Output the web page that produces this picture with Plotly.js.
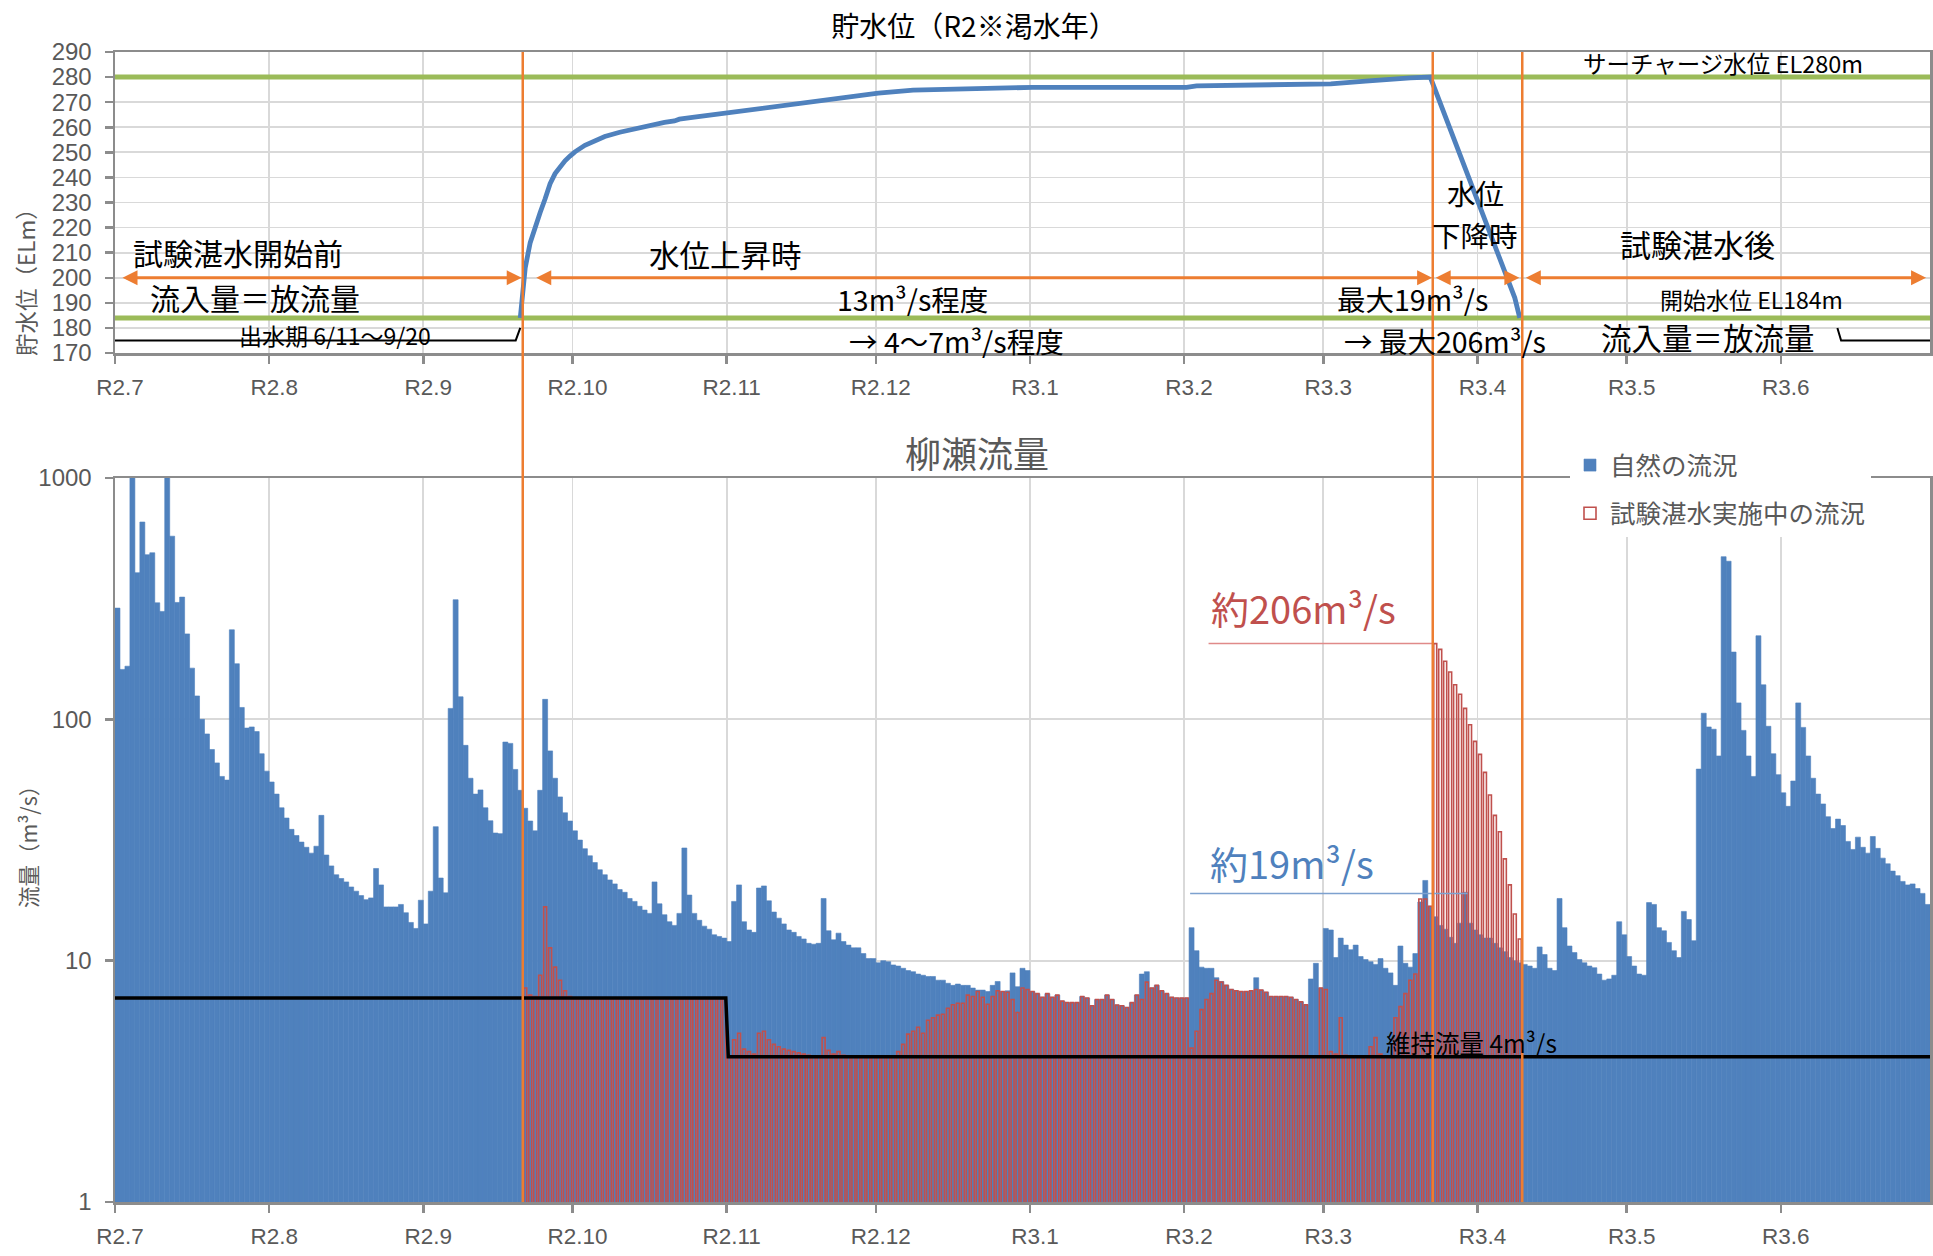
<!DOCTYPE html>
<html>
<head>
<meta charset="utf-8">
<script src="https://cdn.plot.ly/plotly-3.0.1.min.js"></script>
<style>
html,body{margin:0;padding:0;background:#fff;}
#chart{width:1933px;height:1256px;}
</style>
</head>
<body>
<div id="chart"></div>
<script>
// ---------- tick labels ----------
const monthStarts = ['2020-07-01','2020-08-01','2020-09-01','2020-10-01','2020-11-01','2020-12-01',
                     '2021-01-01','2021-02-01','2021-03-01','2021-04-01','2021-05-01','2021-06-01'];
const monthLabels = ['R2.7','R2.8','R2.9','R2.10','R2.11','R2.12','R3.1','R3.2','R3.3','R3.4','R3.5','R3.6'];

// ---------- natural flow (自然の流況) m3/s, daily from 2020-07-01 ----------
const julFlow = [289,161,166,1100,405,657,481,490,304,280,1100,574,305,321,226,163,125,100,87,75,66,58,56,235,170,112,92,93,89,72,61];
const augFlow = [55,49,43,39,35,33,31,29.5,27.9,29.8,40,27.4,24.7,22.7,21.9,21.2,20.2,19.4,18.6,17.9,18.2,24.1,20.6,16.7,16.7,16.7,17.1,15.8,14.4,13.6,17.8];
const sepFlow = [14.2,19.4,35.9,22,19.1,111,313,124,78,57,49,51,43,38,33.8,33.6,80.5,79.5,62,50.8,42.8,37.9,34.5,50.8,121,74,57,47.7,41,37.9];
const octFlow = [34.5,31.6,29.1,27.2,25.5,23.8,22.7,21.6,20.8,19.7,19.2,18.1,17.6,16.8,16.2,15.7,21.2,17.2,15.5,14.5,14.0,15.7,29.3,18.7,15.7,14.7,13.9,13.5,12.8,12.6,12.4];
const novFlow = [12.0,17.6,20.6,14.5,13.4,13.1,20.0,20.4,17.7,15.9,15.0,14.2,13.4,13.1,12.6,12.3,11.8,11.7,11.8,18.1,13.3,12.2,13.0,12.0,11.6,11.3,11.3,10.7,10.2,10.2];
const decFlow = [9.8,10.0,9.9,9.6,9.5,9.3,9.1,9.0,8.8,8.7,8.6,8.6,8.3,8.3,8.06,7.9,8.0,7.9,7.9,7.7,7.55,7.55,7.45,7.9,8.2,7.45,7.5,8.9,7.8,9.3,9.1];
const janFlow = [7.45,7.3,7.05,7.3,7.05,7.2,6.8,6.7,6.7,6.7,7.1,7.0,6.5,6.9,6.9,7.2,6.9,6.55,6.5,6.4,6.7,7.2,8.8,9.0,7.7,7.9,7.5,7.3,7.05,7.0,7.0];
const febFlow = [7.0,13.7,11.0,9.4,9.3,9.3,8.5,8.2,7.9,7.6,7.5,7.45,7.45,7.5,8.5,7.55,7.4,7.1,7.1,7.1,7.1,7.05,6.9,6.75,6.56,8.4,9.75,7.7];
const marFlow = [13.6,13.4,10.3,12.4,11.6,11.1,11.6,10.4,10.1,9.9,9.65,10.2,9.3,8.9,7.9,11.5,9.75,9.4,10.7,17.5,21.5,16.8,15.2,14.0,13.5,12.5,11.8,14.3,19.2,14.3,13.4];
const aprFlow = [12.8,12.4,12.4,11.8,11.3,10.9,10.3,10.0,9.8,9.65,9.5,9.3,11.4,10.6,9.3,9.1,18.1,13.7,11.5,10.8,10.1,9.8,9.5,9.35,8.8,8.3,8.4,8.7,14.5,12.8];
const mayFlow = [10.4,9.5,8.8,8.7,17.4,17.1,13.7,13.3,11.9,11.0,10.3,16.0,14.8,12.1,62.2,106,93,91,70.5,472,452,190,117,90,70.5,58,222,139,93.6,72,59];
const junFlow = [49.6,43.6,55.5,117,92.6,70.5,57,49,44.6,39.5,35.3,38.6,36.3,31.2,28.9,32.5,29.5,27.9,32.7,29.2,26.6,25.2,23.5,22.5,21.3,20.6,20.8,19.9,19.0,17.1];

// ---------- flow during test impoundment (試験湛水実施中の流況), daily from 2020-09-21 ----------
const sepTest = [7.7,7.2,7.1,8.7,16.7,11.3,9.4,8.3,7.5,7.1];
const octTest = [7.0,7.0,7.0,7.0,7.0,7.0,7.0,7.0,7.0,7.0,7.0,7.0,7.0,7.0,7.0,7.0,7.0,7.0,7.0,7.0,7.0,7.0,7.0,7.0,7.0,7.0,7.0,7.0,7.0,7.0,7.0];
const novTest = [4.0,4.7,5.0,4.3,4.2,4.1,5.0,5.1,4.7,4.5,4.4,4.3,4.25,4.2,4.15,4.1,4.05,4.0,4.0,4.8,4.25,4.1,4.2,4.05,4.0,4.0,4.0,4.0,4.0,4.0];
const decTest = [4.0,4.0,4.0,4.0,4.2,4.5,4.96,5.1,5.3,5.0,5.66,5.8,5.95,6.0,6.35,6.57,6.66,6.66,7.2,7.1,7.45,7.05,6.6,7.1,7.5,7.45,7.4,6.9,6.1,7.7,7.6];
const janTest = [7.45,7.3,7.05,7.3,7.05,7.2,6.8,6.7,6.7,6.7,7.1,7.0,6.5,6.9,6.9,7.2,6.9,6.55,6.5,6.4,6.7,7.2,6.9,8.15,7.7,7.9,7.5,7.3,7.05,7.0,7.0];
const febTest = [7.0,4.34,5.1,6.27,6.9,7.3,8.3,8.15,7.9,7.6,7.5,7.45,7.45,7.5,7.6,7.55,7.4,7.1,7.1,7.1,7.1,7.05,6.9,6.75,6.56,4.0,4.0,7.7];
const marTest = [7.6,4.2,4.1,5.8,4.05,4.0,4.0,4.0,4.0,4.4,4.8,4.1,4.0,4.0,5.8,6.45,7.3,8.3,8.8,18,18,16.8,206,195,174,157,139,127,111,95,81];
const aprTest = [71.6,60.3,48.6,40,34.2,26.4,20.6,15.6,12.3];

// ---------- reservoir level (貯水位) EL m ----------
const levelDates = ['2020-09-20 12:00','2020-09-21 12:00','2020-09-22 12:00','2020-09-23 12:00','2020-09-24 12:00',
  '2020-09-25 12:00','2020-09-26 12:00','2020-09-27 12:00','2020-09-28 12:00','2020-09-29 12:00','2020-09-30 12:00',
  '2020-10-01 12:00','2020-10-03 12:00','2020-10-05 12:00','2020-10-07 12:00','2020-10-10 12:00','2020-10-13 12:00',
  '2020-10-16 12:00','2020-10-19 12:00','2020-10-21 12:00','2020-10-22 12:00','2020-10-25 12:00','2020-10-28 12:00',
  '2020-11-01 12:00','2020-11-05 12:00','2020-11-10 12:00','2020-11-15 12:00','2020-11-20 12:00','2020-11-25 12:00',
  '2020-12-01 12:00','2020-12-08 12:00','2020-12-16 12:00','2020-12-25 12:00','2021-01-01 12:00','2021-01-15 12:00',
  '2021-02-01 12:00','2021-02-03 12:00','2021-02-10 12:00','2021-02-26 12:00','2021-03-02 12:00','2021-03-09 12:00',
  '2021-03-14 12:00','2021-03-18 12:00','2021-03-22 12:00','2021-03-26 12:00','2021-03-30 12:00','2021-04-03 12:00',
  '2021-04-06 12:00','2021-04-08 12:00','2021-04-09 12:00'];
const levelValues = [184,204,214,220.5,226,231.5,237.5,241.5,244.3,246.6,248.5,
  250.2,252.8,254.8,256.3,258,259.4,260.7,261.9,262.5,263.2,264,264.8,
  265.4,266.8,268.2,269.5,270.8,272,273.6,274.8,275.3,275.7,275.9,275.9,
  275.9,276.5,276.7,277,277.3,278.4,279.2,279.7,280,259.5,238.9,218.4,203,192,184];

// reference levels
const fullRange = ['2020-07-01','2021-07-01'];
const surchargeLevel = [280,280];
const startLevel = [184,184];
// 出水期 bracket
const floodLeftX = ['2020-07-01','2020-09-19 14:00','2020-09-20 12:00'];
const floodLeftY = [175,175,180];
const floodRightX = ['2021-06-12 09:00','2021-06-13 03:00','2021-07-01'];
const floodRightY = [180,175,175];
// 維持流量
const maintX = ['2020-07-01','2020-10-31 20:00','2020-11-01 08:00','2021-07-01'];
const maintY = [7,7,4,4];
// leaders
const peakTestX = ['2021-02-05 22:00','2021-03-23 00:00'];
const peakTestY = [206,206];
const peakNatX = ['2021-02-02 05:00','2021-03-30 00:00'];
const peakNatY = [19,19];
// phase boundaries
const phaseBounds = ['2020-09-21','2021-03-23','2021-04-10'];

const DAY = 86400000;
function makeDates(y, m, d, n){
  const out = [], t0 = Date.UTC(y, m-1, d, 12);
  for (let i = 0; i < n; i++){ out.push(new Date(t0 + i*DAY).toISOString().slice(0,10) + ' 12:00'); }
  return out;
}
const naturalFlow = [].concat(julFlow, augFlow, sepFlow, octFlow, novFlow, decFlow, janFlow, febFlow, marFlow, aprFlow, mayFlow, junFlow);
const flowDates = makeDates(2020, 7, 1, naturalFlow.length);
const testFlow = [].concat(sepTest, octTest, novTest, decTest, janTest, febTest, marTest, aprTest);
const testDates = makeDates(2020, 9, 21, testFlow.length);

const BLUE = '#4F81BD', RED = '#C0504D', GREEN = '#9BBB59', ORANGE = '#ED7D31', GRAY = '#595959';
const CJK = 'Noto Sans CJK JP, sans-serif';
const LAT = 'Liberation Sans, Arial, sans-serif';

const traces = [
  {type:'bar', x:flowDates, y:naturalFlow, xaxis:'x2', yaxis:'y2', width:DAY,
   marker:{color:BLUE, line:{color:BLUE, width:0.6}}, name:'自然の流況', legendgroup:'a'},
  {type:'bar', x:testDates, y:testFlow, xaxis:'x2', yaxis:'y2', width:DAY*0.6,
   marker:{color:'rgba(255,255,255,0)', line:{color:RED, width:1.6}}, name:'試験湛水実施中の流況', legendgroup:'b'},
  {type:'scatter', mode:'lines', x:maintX, y:maintY, xaxis:'x2', yaxis:'y2', line:{color:'#000', width:3.5}, showlegend:false},
  {type:'scatter', mode:'lines', x:peakTestX, y:peakTestY, xaxis:'x2', yaxis:'y2', line:{color:'#E08A89', width:1.5}, showlegend:false},
  {type:'scatter', mode:'lines', x:peakNatX, y:peakNatY, xaxis:'x2', yaxis:'y2', line:{color:'#7DA1CF', width:1.5}, showlegend:false},

  {type:'scatter', mode:'lines', x:fullRange, y:surchargeLevel, xaxis:'x', yaxis:'y', line:{color:GREEN, width:5}, showlegend:false},
  {type:'scatter', mode:'lines', x:fullRange, y:startLevel, xaxis:'x', yaxis:'y', line:{color:GREEN, width:5}, showlegend:false},
  {type:'scatter', mode:'lines', x:levelDates, y:levelValues, xaxis:'x', yaxis:'y', line:{color:BLUE, width:4.8}, showlegend:false},
  {type:'scatter', mode:'lines', x:floodLeftX, y:floodLeftY, xaxis:'x', yaxis:'y', line:{color:'#000', width:2}, showlegend:false},
  {type:'scatter', mode:'lines', x:floodRightX, y:floodRightY, xaxis:'x', yaxis:'y', line:{color:'#000', width:2}, showlegend:false}
];

const axisCommon = {
  showgrid:true, gridcolor:'#D9D9D9', gridwidth:1.8,
  showline:true, mirror:true, linecolor:'#8C8C8C', linewidth:2.5,
  ticks:'outside', ticklen:8, tickwidth:2.5, tickcolor:'#8C8C8C',
  zeroline:false, fixedrange:true
};
const xCommon = Object.assign({}, axisCommon, {
  type:'date', range:fullRange, tickmode:'array', tickvals:monthStarts, ticktext:monthLabels,
  tickfont:{family:LAT, size:22.5, color:GRAY}, ticklabelstandoff:4, ticklabelshift:5
});

function paperX(px){ return (px - 115) / 1815; }
function paperY(py){ return (1256 - py) / 1256; }

function label(text, fx, fy, size, color, extra){
  return Object.assign({text:text, xref:'paper', yref:'paper', x:paperX(fx), y:paperY(fy),
    xanchor:'center', yanchor:'middle', showarrow:false, borderpad:0,
    font:{family:CJK, size:size, color:color || '#000'}}, extra || {});
}
function arrow(x0, x1){
  return {text:'', xref:'x', yref:'y', axref:'x', ayref:'y', x:x1, y:200, ax:x0, ay:200,
    showarrow:true, arrowside:'end+start', arrowhead:2, startarrowhead:2, arrowsize:1, startarrowsize:1,
    arrowwidth:3, arrowcolor:ORANGE, standoff:0, startstandoff:0};
}

const annotations = [
  label('試験湛水開始前', 238, 252, 30),
  label('流入量＝放流量', 255, 297, 30),
  label('出水期 6/11～9/20', 335, 335, 23),
  label('水位上昇時', 725, 254, 30.5),
  label('13m³/s程度', 912, 298, 28.5),
  label('→ 4～7m³/s程度', 956, 341, 28.5),
  label('最大19m³/s', 1412, 298, 28.5),
  label('→ 最大206m³/s', 1445, 341, 28.5),
  label('水位', 1475, 192.5, 28.5),
  label('下降時', 1475, 234.5, 28.5),
  label('試験湛水後', 1697, 244, 31),
  label('サーチャージ水位 EL280m', 1723, 63, 23.5),
  label('開始水位 EL184m', 1751, 299, 23),
  label('流入量＝放流量', 1708, 337, 30.5),
  label('柳瀬流量', 977, 452, 36, GRAY),
  label('約206m³/s', 1303, 607, 38, RED),
  label('約19m³/s', 1292, 863, 38, BLUE),
  label('維持流量 4m³/s', 1471, 1042, 24.5),
  label('貯水位（ELm）', 25, 277, 22.5, GRAY, {textangle:-90}),
  label('流量（m³/s）', 27, 842, 21.5, GRAY, {textangle:-90}),
  arrow('2020-07-02 05:00', '2020-09-20 19:00'),
  arrow('2020-09-23 10:00', '2021-03-22 21:00'),
  arrow('2021-03-23 07:00', '2021-04-09 10:00'),
  arrow('2021-04-10 10:00', '2021-06-30 05:00')
];

const shapes = phaseBounds.map(d => ({type:'line', xref:'x', yref:'paper', x0:d, x1:d,
  y0:paperY(1202), y1:paperY(52), line:{color:ORANGE, width:2.5}, layer:'above'}));

const layout = {
  width:1933, height:1256, margin:{l:115, r:3, t:0, b:0},
  paper_bgcolor:'#fff', plot_bgcolor:'#fff',
  barmode:'overlay', bargap:0,
  title:{text:'貯水位（R2※渇水年）', xref:'container', yref:'container', x:974/1933, y:paperY(27),
         xanchor:'center', yanchor:'middle', font:{family:CJK, size:28, color:'#000'}},
  xaxis:Object.assign({}, xCommon, {anchor:'y', domain:[0,1]}),
  yaxis:Object.assign({}, axisCommon, {anchor:'x', domain:[paperY(353), paperY(52)], range:[170,290],
        tickmode:'linear', tick0:170, dtick:10, tickfont:{family:LAT, size:24, color:GRAY}, ticklabelstandoff:8}),
  xaxis2:Object.assign({}, xCommon, {anchor:'y2', domain:[0,1], matches:'x'}),
  yaxis2:Object.assign({}, axisCommon, {anchor:'x2', domain:[paperY(1202), paperY(478)], type:'log', range:[0,3],
        tickmode:'array', tickvals:[1,10,100,1000], ticktext:['1','10','100','1000'],
        tickfont:{family:LAT, size:24, color:GRAY}, ticklabelstandoff:8}),
  showlegend:true,
  legend:{x:paperX(1570), y:paperY(442), xanchor:'left', yanchor:'top', bgcolor:'#fff', borderwidth:0,
          font:{family:CJK, size:25.5, color:GRAY}, traceorder:'grouped', tracegroupgap:12},
  annotations:annotations,
  shapes:shapes
};

Plotly.newPlot('chart', traces, layout, {displayModeBar:false, staticPlot:true});
</script>
</body>
</html>
